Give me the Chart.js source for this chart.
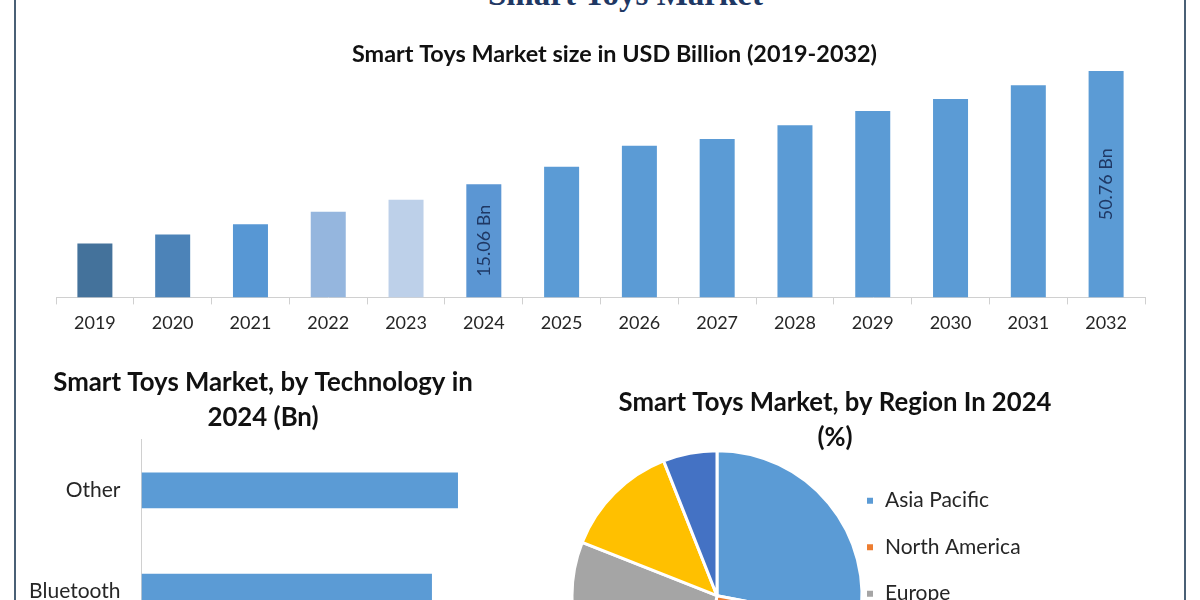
<!DOCTYPE html>
<html>
<head>
<meta charset="utf-8">
<title>Smart Toys Market</title>
<script src="https://cdn.jsdelivr.net/npm/chart.js@4"></script>
<style>
  html, body { margin: 0; padding: 0; width: 1200px; height: 600px; overflow: hidden; background: #fff; }
  .frame { position: absolute; top: 0; left: 14px; width: 1168px; height: 600px; border-left: 2px solid #4a6075; border-right: 2px solid #4a6075; }
  #mainTitle { position: absolute; left: 0; width: 1251px; top: -24px; text-align: center; font: bold 33px "Liberation Serif", serif; color: #1f3864; }
  .box { position: absolute; }
</style>
</head>
<body>
<div class="frame"></div>
<div id="mainTitle">Smart Toys Market</div>
<div class="box" style="left:0;top:30px;width:1200px;height:312px"><canvas id="sizeChart"></canvas></div>
<div class="box" style="left:0;top:360px;width:556px;height:308px"><canvas id="techChart"></canvas></div>
<div class="box" style="left:570px;top:380px;width:516px;height:356px"><canvas id="regionChart"></canvas></div>

<script>
const years = ['2019','2020','2021','2022','2023','2024','2025','2026','2027','2028','2029','2030','2031','2032'];
const marketSize = [12.1,14.1,16.4,19.2,21.9,25.4,29.3,34.0,35.5,38.6,41.8,44.5,47.6,50.76];
const sizeLabels = ['','','','','','15.06 Bn','','','','','','','','50.76 Bn'];
const sizeColors = ['#44729b','#4c83b8','#5797d4','#95b6de','#bdd0e9','#5b96d3','#5b9bd5','#5b9bd5','#5b9bd5','#5b9bd5','#5b9bd5','#5b9bd5','#5b9bd5','#5b9bd5'];

const technologies = ['Other','Bluetooth'];
const techValues = [5.35,4.91];

const regions = ['Asia Pacific','North America','Europe','Middle East and Africa','South America'];
const regionShares = [28,25,28,13,6];
const regionColors = ['#5b9bd5','#ed7d31','#a5a5a5','#ffc000','#4472c4'];

const uiFont = 'Lato, sans-serif';
const textColor = '#262626';

// writes the rotated value labels in the middle of the bars
const barLabels = {
  id: 'barLabels',
  afterDatasetsDraw(chart) {
    const ctx = chart.ctx;
    chart.getDatasetMeta(0).data.forEach((bar, i) => {
      if (!sizeLabels[i]) return;
      ctx.save();
      ctx.translate(bar.x, (bar.y + bar.base) / 2);
      ctx.rotate(-Math.PI / 2);
      ctx.textAlign = 'center';
      ctx.textBaseline = 'middle';
      ctx.font = '18px ' + uiFont;
      ctx.fillStyle = '#1f3864';
      ctx.fillText(sizeLabels[i], 0, 0);
      ctx.restore();
    });
  }
};

// titles are not centred over the plot in the original, legend sits a bit high
function nudge(titleX, legendY) {
  return {
    id: 'nudge',
    afterLayout(chart) {
      chart.titleBlock.left += titleX;
      chart.titleBlock.right += titleX;
      if (legendY) {
        chart.legend.top += legendY;
        chart.legend.bottom += legendY;
      }
    }
  };
}

Chart.defaults.animation = false;
Chart.defaults.responsive = true;
Chart.defaults.maintainAspectRatio = false;

new Chart(document.getElementById('sizeChart'), {
  type: 'bar',
  data: { labels: years, datasets: [{ data: marketSize, backgroundColor: sizeColors, barPercentage: 0.45, categoryPercentage: 1 }] },
  plugins: [barLabels, nudge(14, 0)],
  options: {
    layout: { padding: { left: 56, right: 55, top: 0, bottom: 0 } },
    plugins: {
      legend: { display: false },
      tooltip: { enabled: false },
      title: { display: true, text: 'Smart Toys Market size in USD Billion (2019-2032)', color: '#111', font: { family: uiFont, size: 23.4, weight: 'bold' }, padding: { top: 10, bottom: 3 } }
    },
    scales: {
      x: {
        grid: { drawOnChartArea: false, color: '#d0d0d0', tickLength: 7 },
        border: { color: '#d0d0d0' },
        ticks: { color: textColor, font: { family: uiFont, size: 18 }, padding: 8, maxRotation: 0 }
      },
      y: { display: false, min: 0, max: 50.76 }
    }
  }
});

new Chart(document.getElementById('techChart'), {
  type: 'bar',
  data: { labels: technologies, datasets: [{ data: techValues, backgroundColor: '#5b9bd5', barPercentage: 0.353, categoryPercentage: 1 }] },
  options: {
    indexAxis: 'y',
    layout: { padding: { left: 0, right: 30, top: 0, bottom: 8 } },
    plugins: {
      legend: { display: false },
      tooltip: { enabled: false },
      title: { display: true, text: ['Smart Toys Market, by Technology in', '2024 (Bn)'], color: '#111', font: { family: uiFont, size: 25.8, weight: 'bold', lineHeight: 1.36 }, padding: { top: 5.5, bottom: 4 } }
    },
    scales: {
      y: {
        afterFit(scale) { scale.width = 141.5; },
        grid: { display: false },
        border: { color: '#d0d0d0' },
        ticks: { color: textColor, font: { family: uiFont, size: 21 }, padding: 13 }
      },
      x: { display: false, min: 0, max: 6.5 }
    }
  }
});

new Chart(document.getElementById('regionChart'), {
  type: 'pie',
  data: { labels: regions, datasets: [{ data: regionShares, backgroundColor: regionColors, borderColor: '#fff', borderWidth: 3, radius: 145 }] },
  plugins: [nudge(-5, -2)],
  options: {
    layout: { padding: { left: 24 } },
    plugins: {
      tooltip: { enabled: false },
      title: { display: true, text: ['Smart Toys Market, by Region In 2024', '(%)'], color: '#111', font: { family: uiFont, size: 25.7, weight: 'bold', lineHeight: 1.38 }, padding: { top: 4.5, bottom: 0 } },
      legend: { position: 'right', fullSize: false, labels: { boxWidth: 9, boxHeight: 9, padding: 25.5, color: textColor, font: { family: uiFont, size: 21 } } }
    }
  }
});
</script>
</body>
</html>
